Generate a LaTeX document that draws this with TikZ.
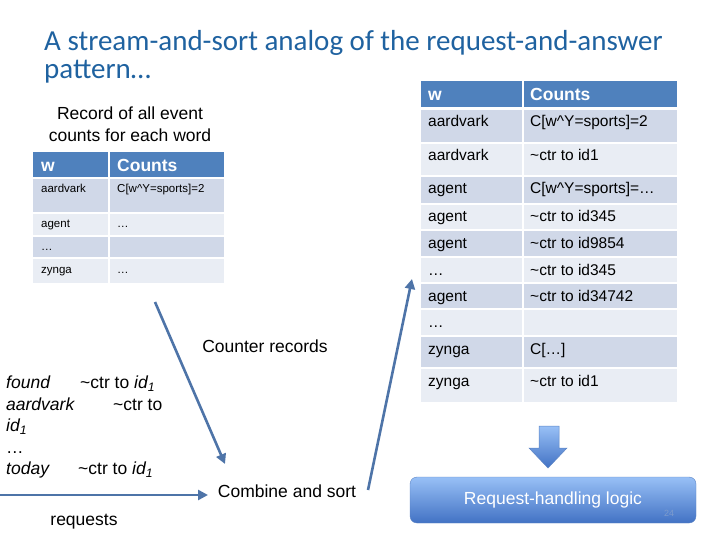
\documentclass[tikz,border=0pt]{standalone}
\usepackage{fontspec}
\setmainfont{Liberation Sans}
\newfontfamily\titlefont{Carlito}
\usetikzlibrary{positioning}
\usetikzlibrary{arrows.meta}

\definecolor{titleblue}{RGB}{31,98,160}
\definecolor{headblue}{RGB}{79,129,189}
\definecolor{rowdark}{RGB}{208,216,232}
\definecolor{rowlight}{RGB}{233,237,244}
\definecolor{arrowblue}{RGB}{78,116,168}
\definecolor{boxhi}{RGB}{152,192,246}
\definecolor{boxlo}{RGB}{66,114,196}
\definecolor{boxedge}{RGB}{92,132,196}
\definecolor{pagenum}{RGB}{125,155,205}

\tikzset{
  cell/.style={inner sep=0pt, anchor=base west},
  bigcell/.style={cell, font=\fontsize{15.5}{18}\selectfont},
  smallcell/.style={cell, font=\fontsize{11.5}{14}\selectfont},
  headcell/.style={cell, text=white, font=\fontsize{17.5}{20}\selectfont\bfseries},
  plaintext/.style={inner sep=0pt, font=\fontsize{17.5}{21.5}\selectfont},
  titletext/.style={anchor=base west, inner sep=0pt, text=titleblue,
    font=\titlefont\fontsize{29}{25}\selectfont},
  flow/.style={draw=arrowblue, line width=2.6pt, -{Triangle[length=10pt,width=10pt]}}
}

\begin{document}
\begin{tikzpicture}[x=1pt,y=-1pt]
\useasboundingbox (0,0) rectangle (720,540);

\node[titletext] (title) at (44,51) {A stream-and-sort analog of the request-and-answer};
\node[titletext] (title2) at (44,79) {pattern…};

% left table
\node[plaintext, anchor=north, align=center] (rec) at (130,107)
  {Record of all event\\counts for each word};
\fill[headblue] (33,152) rectangle (108,177);
\fill[headblue] (110,152) rectangle (224,177);
\node[headcell] (lhw) at (41,172) {w};
\node[headcell] (lhc) at (117,172) {Counts};
\foreach \top/\bot/\col/\w/\c [count=\i] in {
    179/212/rowdark/aardvark/{C[w\textasciicircum Y=sports]=2},
    214/235/rowlight/agent/{…},
    237/257/rowdark/{…}/{},
    259/283/rowlight/zynga/{…}}{
  \fill[\col] (33,\top) rectangle (108,\bot);
  \fill[\col] (110,\top) rectangle (224,\bot);
  \node[smallcell] (lw\i) at (41,\top+14) {\w};
  \node[smallcell] (lc\i) at (117,\top+14) {\c};
}

% right table
\fill[headblue] (421,81) rectangle (522,107);
\fill[headblue] (524,81) rectangle (677,107);
\node[headcell] (rhw) at (428,101) {w};
\node[headcell] (rhc) at (530,101) {Counts};
\foreach \top/\bot/\col/\w/\c [count=\i] in {
    110/142/rowdark/aardvark/{C[w\textasciicircum Y=sports]=2},
    144/175/rowlight/aardvark/{\textasciitilde ctr to id1},
    177/203/rowdark/agent/{C[w\textasciicircum Y=sports]=…},
    205/229/rowlight/agent/{\textasciitilde ctr to id345},
    231/256/rowdark/agent/{\textasciitilde ctr to id9854},
    258/282/rowlight/{…}/{\textasciitilde ctr to id345},
    284/308/rowdark/agent/{\textasciitilde ctr to id34742},
    310/335/rowlight/{…}/{},
    337/367/rowdark/zynga/{C[…]},
    369/402/rowlight/zynga/{\textasciitilde ctr to id1}}{
  \fill[\col] (421,\top) rectangle (522,\bot);
  \fill[\col] (524,\top) rectangle (677,\bot);
  \node[bigcell] (rw\i) at (428,\top+17) {\w};
  \node[bigcell] (rc\i) at (530,\top+17) {\c};
}

% labels
\node[plaintext, anchor=base] (cntrec) at (265,352) {Counter records};
\node[plaintext, anchor=base] (comb) at (287,497) {Combine and sort};
\node[plaintext, anchor=base] (req) at (84,525) {requests};
\node[plaintext, anchor=north west, align=left] (reqs) at (6,376)
  {\makebox[74pt][l]{\textit{found}}\textasciitilde ctr to \textit{id\textsubscript{1}}\\
   \makebox[107pt][l]{\textit{aardvark}}\textasciitilde ctr to\\
   \textit{id\textsubscript{1}}\\
   …\\
   \makebox[72pt][l]{\textit{today}}\textasciitilde ctr to \textit{id\textsubscript{1}}\\
   {\fontsize{10}{10}\selectfont …}};

% arrows
\coordinate (cnt) at (155,302);
\coordinate (cnte) at (225,464);
\coordinate (rqs) at (0,495);
\coordinate (rqe) at (208,495);
\coordinate (cmb) at (368,490);
\coordinate (cmbe) at (412,279);
\draw[flow] (cnt) -- (cnte);
\draw[flow] (rqs) -- (rqe);
\draw[flow] (cmb) -- (cmbe);

% block arrow and logic box
\shade[top color=boxhi, bottom color=boxlo, draw=boxedge, line width=0.5pt]
  (539,426) -- (559,426) -- (559,448) -- (567,448) -- (548,468)
  -- (529,448) -- (539,448) -- cycle;
\node[draw=boxedge, rounded corners=7pt, top color=boxhi, bottom color=boxlo,
  minimum width=286pt, minimum height=46pt, text=white,
  font=\fontsize{17.5}{20}\selectfont] (logic) at (553,500) {Request-handling logic};
\node[inner sep=0pt, text=pagenum, font=\fontsize{9}{9}\selectfont] (pnum) at (669,513) {24};
\end{tikzpicture}
\end{document}
